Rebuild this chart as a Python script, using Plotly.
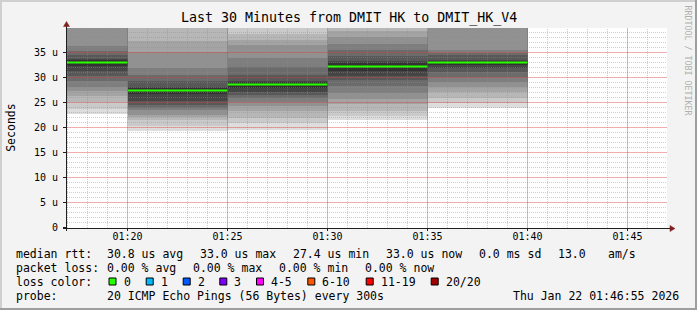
import plotly.graph_objects as go
import pandas as pd

# ---------------- data ----------------
bin_end = ["2026-01-22 01:20:00", "2026-01-22 01:25:00", "2026-01-22 01:30:00",
           "2026-01-22 01:35:00", "2026-01-22 01:40:00"]
step_seconds = 300
# 20 sorted ping round-trip times per step (microseconds)
pings_0120 = [22.7, 23.7, 25.1, 26.4, 27.4, 28.2, 29.4, 30.4, 31.4, 32.4,
              33.6, 33.8, 34.6, 35.4, 36.3, 41.0, 45.0, 52.0, 62.0, 85.0]
pings_0125 = [19.4, 20.3, 21.5, 22.2, 22.6, 23.6, 24.0, 24.6, 25.4, 26.8,
              28.0, 28.1, 29.3, 30.6, 32.0, 35.1, 37.4, 43.0, 55.0, 70.0]
pings_0130 = [19.6, 21.0, 22.0, 23.3, 24.3, 25.2, 26.0, 26.6, 27.2, 28.0,
              29.2, 29.4, 30.6, 32.2, 33.9, 36.5, 37.5, 38.7, 41.5, 50.0]
pings_0135 = [21.5, 22.4, 23.4, 24.8, 25.8, 27.0, 28.4, 29.6, 30.4, 31.4,
              33.0, 33.4, 34.4, 35.6, 36.8, 38.2, 39.4, 42.0, 50.0, 65.0]
pings_0140 = [24.0, 24.9, 26.0, 27.2, 28.2, 29.2, 30.2, 31.2, 32.0, 32.6,
              33.4, 33.6, 34.6, 35.0, 35.6, 41.0, 44.0, 50.0, 60.0, 90.0]
median_rtt = [33.0, 27.4, 28.6, 32.2, 33.0]

y_tick_values = [0, 5, 10, 15, 20, 25, 30, 35]
y_tick_text = ["0", "5 u", "10 u", "15 u", "20 u", "25 u", "30 u", "35 u"]
x_tick_labels = ["01:20", "01:25", "01:30", "01:35", "01:40", "01:45"]

loss_labels = ["0", "1", "2", "3", "4-5", "6-10", "11-19", "20/20"]
loss_colors = ["#26ff00", "#00b8ff", "#0059ff", "#7e00ff", "#ff00ff", "#ff5500", "#ff0000", "#a10000"]

title_text = "Last 30 Minutes from DMIT HK to DMIT_HK_V4"
row_median = ["median rtt:", "30.8 us avg", "33.0 us max", "27.4 us min", "33.0 us now",
              "0.0 ms sd", "13.0", "am/s"]
row_loss = ["packet loss:", "0.00 % avg", "0.00 % max", "0.00 % min", "0.00 % now"]
row_probe = ["probe:", "20 ICMP Echo Pings (56 Bytes) every 300s", "Thu Jan 22 01:46:55 2026"]

# ---------------- layout geometry ----------------
W, H = 697, 310
L, T, PW, PH = 67, 28, 600, 200
B = T + PH
FONT = "DejaVu Sans Mono"


def fx(px):
    return (px - L) / PW


def fy(py):
    return (B - py) / PH


pings = [pings_0120, pings_0125, pings_0130, pings_0135, pings_0140]
ends = pd.to_datetime(bin_end)
step = pd.Timedelta(seconds=step_seconds)
starts = ends - step
centers = ends - step / 2
x_start = pd.Timestamp("2026-01-22 01:16:58.5")
x_stop = x_start + pd.Timedelta(minutes=30)
y_range = [-0.1, 39.9]

fig = go.Figure()

# smoke (smokeping style nested layers)
n = len(pings[0])
half = n // 2
for k in range(1, half + 1):
    lvl = int(190 / half * (half - k)) + 50
    col = "#%02x%02x%02x" % (lvl, lvl, lvl)
    bottoms = [p[k - 1] for p in pings]
    tops = [p[n - k] for p in pings]
    fig.add_trace(go.Bar(
        x=centers, y=[t - b for t, b in zip(tops, bottoms)], base=bottoms,
        width=[step_seconds * 1000] * len(pings),
        marker=dict(color=col, line=dict(width=0)),
        hoverinfo="skip", showlegend=False))

# minor grid lines (drawn over the smoke, under the median line)
minor_times = [t for t in pd.date_range("2026-01-22 01:17", "2026-01-22 01:46", freq="1min")
               if t.strftime("%H:%M") not in x_tick_labels]
major_times = list(pd.to_datetime(["2026-01-22 " + s for s in x_tick_labels]))
minor_vals = [v for v in range(1, 40) if v % 5 != 0]
major_vals = [v for v in y_tick_values if v > 0]

gx, gy = [], []
for t in minor_times:
    gx += [t.isoformat(), t.isoformat(), None]
    gy += [y_range[0], y_range[1], None]
for v in minor_vals:
    gx += [x_start.isoformat(), x_stop.isoformat(), None]
    gy += [v, v, None]
fig.add_trace(go.Scatter(x=gx, y=gy, mode="lines", hoverinfo="skip", showlegend=False,
                         line=dict(color="rgba(140,140,140,0.42)", width=1, dash="1px,1px")))

# median line
mx, my = [], []
for s, e, m in zip(starts, ends, median_rtt):
    mx += [s, e, None]
    my += [m, m, None]
fig.add_trace(go.Scatter(x=mx, y=my, mode="lines", hoverinfo="skip", showlegend=False,
                         line=dict(color=loss_colors[0], width=2)))

shapes = []
# major grid (pinkish), on top
mgrid = dict(color="rgba(220,60,60,0.42)", width=1)
for t in major_times:
    shapes.append(dict(type="line", xref="x", yref="paper", x0=t.isoformat(), x1=t.isoformat(),
                       y0=0, y1=1, line=mgrid, layer="above"))
for v in major_vals:
    shapes.append(dict(type="line", xref="paper", yref="y", x0=0, x1=1, y0=v, y1=v,
                       line=mgrid, layer="above"))
# frame shading
shapes.append(dict(type="rect", xref="paper", yref="paper", x0=fx(0), x1=fx(W), y0=fy(0), y1=fy(2),
                   fillcolor="#cfcfcf", line=dict(width=0), layer="below"))
shapes.append(dict(type="rect", xref="paper", yref="paper", x0=fx(0), x1=fx(2), y0=fy(0), y1=fy(H),
                   fillcolor="#cfcfcf", line=dict(width=0), layer="below"))
shapes.append(dict(type="rect", xref="paper", yref="paper", x0=fx(W - 2), x1=fx(W), y0=fy(0), y1=fy(H),
                   fillcolor="#9e9e9e", line=dict(width=0), layer="below"))
shapes.append(dict(type="rect", xref="paper", yref="paper", x0=fx(0), x1=fx(W), y0=fy(H - 2), y1=fy(H),
                   fillcolor="#9e9e9e", line=dict(width=0), layer="below"))
# axes
axis_col = "#1f1f1f"
arrow_col = "#801f1f"
shapes.append(dict(type="line", xref="paper", yref="paper", x0=fx(63), x1=fx(671), y0=fy(228.5), y1=fy(228.5),
                   line=dict(color=axis_col, width=1)))
shapes.append(dict(type="line", xref="paper", yref="paper", x0=fx(66.5), x1=fx(66.5), y0=fy(231), y1=fy(25),
                   line=dict(color=axis_col, width=1)))
shapes.append(dict(type="path", xref="paper", yref="paper",
                   path="M %f %f L %f %f L %f %f Z" % (fx(63.5), fy(26.5), fx(69.5), fy(26.5), fx(66.5), fy(21.5)),
                   fillcolor=arrow_col, line=dict(color=arrow_col, width=0.5)))
shapes.append(dict(type="path", xref="paper", yref="paper",
                   path="M %f %f L %f %f L %f %f Z" % (fx(670), fy(225.5), fx(670), fy(231.5), fx(675), fy(228.5)),
                   fillcolor=arrow_col, line=dict(color=arrow_col, width=0.5)))

annotations = []


def text(s, px, py, size=11.5, color="#000000", anchor="left", angle=0):
    annotations.append(dict(text=s, xref="paper", yref="paper", x=fx(px), y=fy(py),
                            xanchor=anchor, yanchor="middle", showarrow=False, textangle=angle,
                            borderpad=0, borderwidth=0,
                            font=dict(family=FONT, size=size, color=color)))


text(title_text, W / 2, 18, size=13.3, anchor="center")
text("Seconds", 10.8, 128, size=11.5, anchor="center", angle=-90)
text("RRDTOOL / TOBI OETIKER", 687.5, 60, size=8.3, color="#b0b0b0", anchor="center", angle=90)

row1_x = [16, 107, 200, 293, 386, 479.3, 558.3, 607.7]
for s, px in zip(row_median, row1_x):
    text(s, px, 254)
row2_x = [16, 107.3, 193.3, 279.3, 365]
for s, px in zip(row_loss, row2_x):
    text(s, px, 268)
text("loss color:", 16, 282)
box_x = [108.5, 145.7, 182.7, 219.3, 256, 307.3, 365.7, 430.7]
for lab, col, bx in zip(loss_labels, loss_colors, box_x):
    shapes.append(dict(type="rect", xref="paper", yref="paper", x0=fx(bx + 0.5), x1=fx(bx + 7.5),
                       y0=fy(285), y1=fy(278), fillcolor=col, line=dict(color="#000000", width=1)))
    text(lab, bx + 15, 282)
row4_x = [16, 107, 513]
for s, px in zip(row_probe, row4_x):
    text(s, px, 296)

fig.update_layout(
    width=W, height=H,
    margin=dict(l=L, r=W - L - PW, t=T, b=H - B, pad=0),
    paper_bgcolor="#f3f3f3", plot_bgcolor="#ffffff",
    barmode="overlay", bargap=0,
    showlegend=False,
    shapes=shapes, annotations=annotations,
    xaxis=dict(type="date", range=[x_start, x_stop], showgrid=False, zeroline=False, showline=False,
               tickvals=major_times, ticktext=x_tick_labels,
               ticks="outside", ticklen=2, tickcolor=axis_col, ticklabelstandoff=-3,
               tickfont=dict(family=FONT, size=10, color="#000000"), fixedrange=True),
    yaxis=dict(range=y_range, showgrid=False, zeroline=False, showline=False,
               tickvals=y_tick_values, ticktext=y_tick_text,
               ticks="outside", ticklen=3, tickcolor=axis_col, ticklabelstandoff=3,
               tickfont=dict(family=FONT, size=10, color="#000000"), fixedrange=True),
)

fig.write_html("out.html")
